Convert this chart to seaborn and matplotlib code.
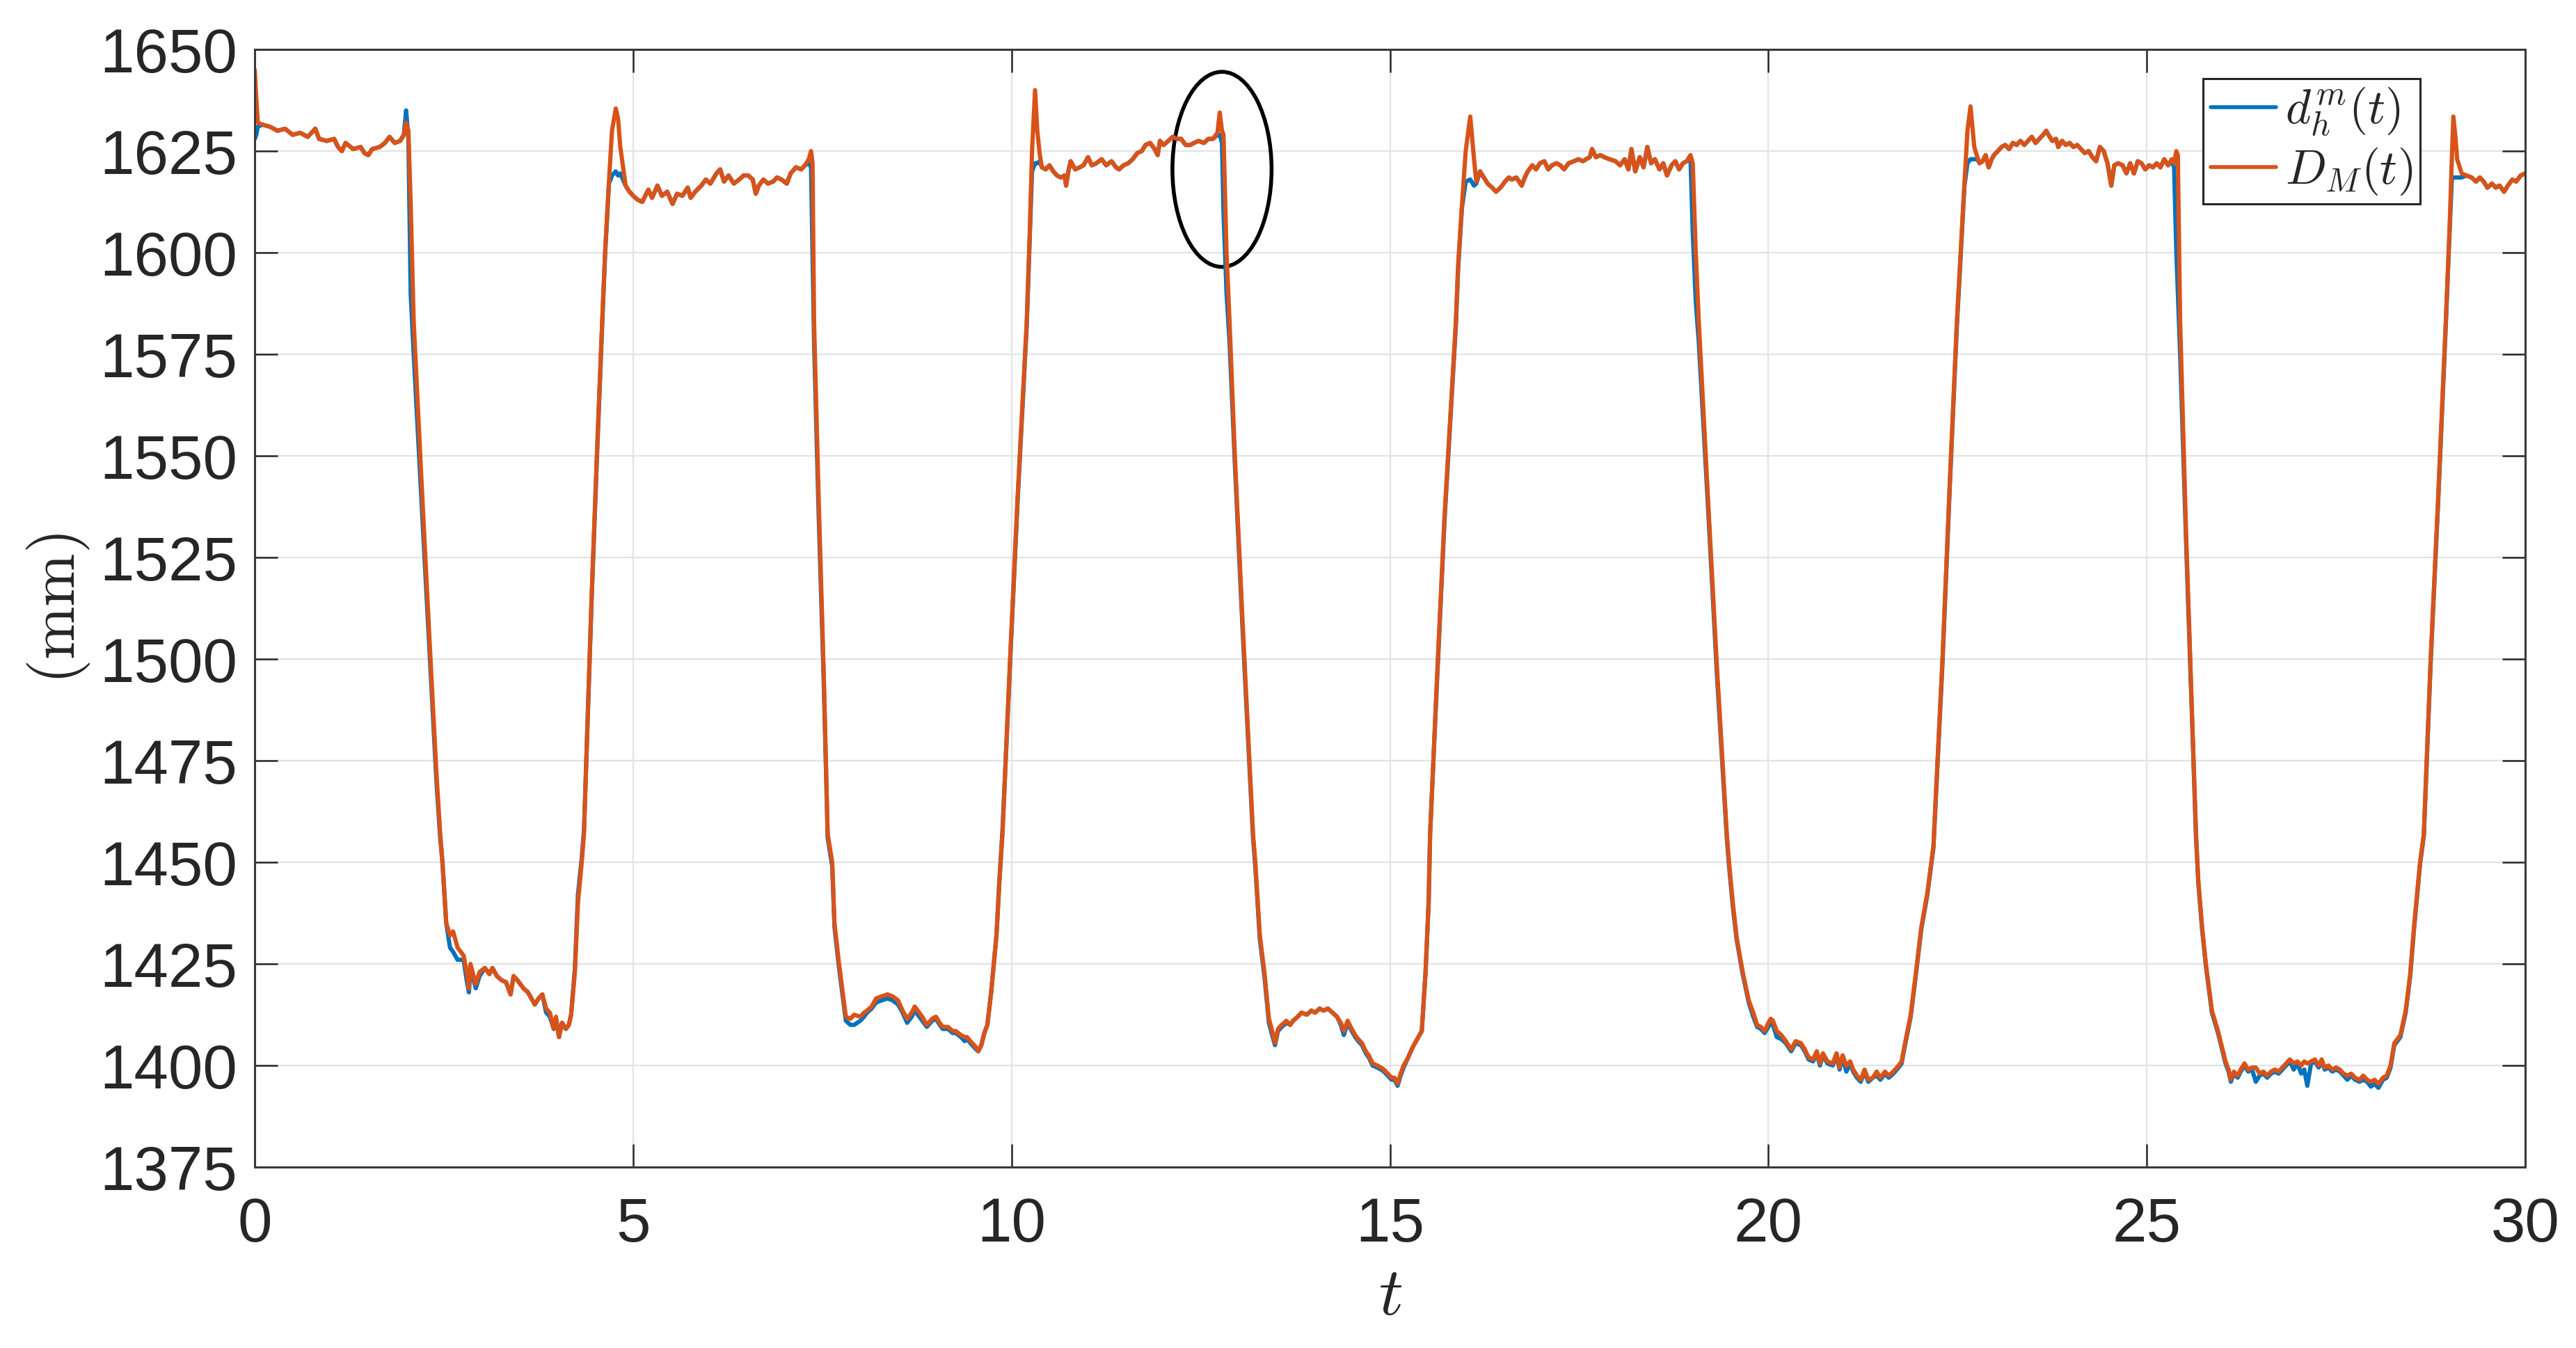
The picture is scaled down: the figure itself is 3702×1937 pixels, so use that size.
import numpy as np
import pandas as pd
import matplotlib
matplotlib.use("Agg")
import matplotlib.pyplot as plt
from matplotlib.patches import Ellipse
import seaborn as sns

# ---------------- data ----------------
t_s = [
    # plateau 1
    0.00,0.02,0.04,0.10,0.20,0.30,0.40,0.50,0.60,0.70,0.80,0.85,0.95,1.05,1.10,1.15,1.20,1.30,1.40,1.45,1.50,1.55,1.65,1.72,1.78,1.85,1.92,1.97,2.00,2.03,
    # drop + trough 1
    2.06,2.10,2.20,2.30,2.40,2.45,2.48,2.53,2.58,2.62,2.68,2.76,2.80,2.83,2.85,2.92,2.97,3.04,3.10,3.14,3.20,3.26,3.32,3.38,3.42,3.47,3.55,3.61,3.67,3.70,3.75,3.80,3.85,3.90,3.95,3.98,4.02,4.06,4.11,4.15,4.18,4.23,4.27,4.32,4.35,
    # rise + plateau 2
    4.45,4.52,4.59,4.63,4.68,4.72,4.77,4.80,4.83,4.90,4.95,5.00,5.06,5.12,5.20,5.25,5.32,5.38,5.45,5.52,5.58,5.65,5.72,5.76,5.82,5.90,5.96,6.02,6.10,6.15,6.20,6.26,6.33,6.40,6.46,6.52,6.58,6.62,6.66,6.72,6.78,6.85,6.90,6.96,7.03,7.08,7.15,7.22,7.27,7.32,7.35,
    # drop + trough 2
    7.37,7.39,7.45,7.52,7.57,7.63,7.66,7.72,7.81,7.87,7.92,8.00,8.05,8.09,8.15,8.21,8.28,8.36,8.43,8.50,8.56,8.62,8.68,8.72,8.76,8.82,8.88,8.95,9.00,9.05,9.09,9.16,9.22,9.26,9.33,9.38,9.41,9.48,9.53,9.56,9.60,9.64,9.68,9.73,9.80,9.84,9.88,
    # rise + plateau 3
    9.98,10.08,10.20,10.24,10.27,10.31,10.34,10.37,10.40,10.45,10.50,10.55,10.60,10.65,10.70,10.72,10.75,10.78,10.84,10.90,10.95,11.01,11.06,11.12,11.19,11.25,11.32,11.38,11.42,11.48,11.54,11.60,11.66,11.72,11.77,11.83,11.89,11.93,11.96,12.01,12.07,12.13,12.18,12.24,12.30,12.36,12.41,12.47,12.54,12.60,12.66,12.72,12.75,12.78,
    # drop + trough 3
    12.80,12.84,12.88,12.95,13.05,13.19,13.22,13.28,13.34,13.40,13.45,13.48,13.52,13.57,13.63,13.68,13.72,13.78,13.83,13.90,13.96,14.01,14.07,14.12,14.18,14.24,14.30,14.35,14.39,14.44,14.48,14.54,14.58,14.63,14.68,14.72,14.77,14.83,14.88,14.92,14.97,15.02,15.06,15.10,15.14,15.18,15.24,15.30,15.36,15.42,15.47,15.51,15.53,
    # rise + plateau 4
    15.62,15.72,15.87,15.90,15.95,16.00,16.06,16.11,16.14,16.19,16.24,16.29,16.35,16.40,16.46,16.52,16.57,16.61,16.67,16.74,16.78,16.82,16.88,16.93,16.98,17.04,17.09,17.14,17.20,17.25,17.30,17.36,17.43,17.49,17.55,17.59,17.64,17.67,17.72,17.78,17.83,17.90,17.98,18.04,18.10,18.15,18.19,18.24,18.30,18.35,18.40,18.45,18.50,18.56,18.61,18.66,18.72,18.77,18.82,18.87,18.92,18.97,
    # drop + trough 4
    19.00,19.04,19.08,19.20,19.32,19.45,19.48,19.53,19.58,19.66,19.74,19.80,19.85,19.90,19.95,20.00,20.03,20.06,20.11,20.17,20.23,20.30,20.36,20.43,20.48,20.53,20.59,20.64,20.68,20.72,20.78,20.85,20.90,20.94,20.98,21.03,21.08,21.12,21.17,21.22,21.27,21.32,21.38,21.43,21.48,21.54,21.59,21.65,21.72,21.76,21.80,21.88,21.94,22.02,22.10,22.18,
    # rise + plateau 5
    22.30,22.40,22.49,22.54,22.59,22.63,22.67,22.72,22.76,22.79,22.83,22.87,22.91,22.95,22.98,23.03,23.08,23.13,23.18,23.23,23.28,23.33,23.38,23.43,23.48,23.53,23.58,23.63,23.67,23.70,23.75,23.80,23.83,23.88,23.93,23.98,24.03,24.08,24.13,24.18,24.23,24.28,24.33,24.38,24.43,24.48,24.53,24.57,24.62,24.68,24.73,24.78,24.83,24.88,24.93,24.98,25.03,25.08,25.13,25.18,25.23,25.28,25.33,25.36,25.39,
    # drop + trough 5
    25.41,25.44,25.52,25.60,25.65,25.68,25.73,25.78,25.86,25.94,26.00,26.04,26.08,26.11,26.15,26.20,26.24,26.29,26.34,26.39,26.44,26.49,26.54,26.59,26.64,26.69,26.74,26.79,26.84,26.89,26.94,26.99,27.04,27.08,27.12,27.17,27.22,27.27,27.31,27.35,27.40,27.45,27.50,27.55,27.60,27.65,27.70,27.75,27.81,27.86,27.91,27.96,28.01,28.06,28.12,28.17,28.22,28.27,28.35,28.42,28.48,28.53,28.61,28.66,
    # rise + plateau 6
    28.75,28.85,28.95,29.00,29.03,29.05,29.08,29.10,29.16,29.22,29.29,29.35,29.40,29.45,29.50,29.56,29.61,29.66,29.72,29.77,29.83,29.88,29.94,30.00,
]

D_M = [
    1645,1638,1632,1631.5,1631,1630,1630.5,1629,1629.5,1628.5,1630.5,1628,1627.5,1628,1626,1625,1627,1625.5,1626,1624.5,1624,1625.5,1626,1627,1628.5,1627,1627.5,1629,1632,1630,
    1612,1583,1545,1508,1472,1457,1450,1435,1432,1433,1429,1427,1423,1419,1425,1420,1423,1424,1422.5,1424,1422,1421,1420.5,1417.5,1422,1421,1419,1418,1416,1415,1416.5,1417.5,1414,1413,1409,1412,1407,1410.5,1409,1410,1412.5,1423,1440,1450,1457,
    1515,1550,1583,1600.5,1617.5,1630,1635.5,1633,1626,1616.5,1615,1614,1613,1612.5,1615.5,1613.5,1616.5,1614,1615,1612,1614.5,1614,1616,1613.5,1615,1616.5,1618,1617,1619.5,1620.5,1617.5,1619,1617,1618,1619,1619,1618,1614.5,1616.5,1618,1617,1617.5,1618.5,1618,1617,1619.5,1621,1620.5,1621.5,1623,1625,
    1622,1583,1540,1495,1457,1450,1435,1425,1412,1411.5,1412.5,1412,1413,1413.5,1414.5,1416.5,1417,1417.5,1417,1416,1413.5,1411.5,1413,1414.5,1413.5,1412,1410,1411.5,1412,1410.5,1409.5,1409.5,1408.5,1408.5,1407.5,1407,1407,1405.5,1404.5,1403.5,1405,1408,1410,1418,1432,1445.5,1457,
    1500,1540,1583,1605,1625,1640,1630,1624.5,1621,1620.5,1621.5,1620,1619,1618.5,1619,1616.5,1620,1622.5,1620.5,1621,1621.5,1623.5,1621.5,1622,1623,1621.5,1622.5,1621,1620.5,1621.5,1622,1623,1624.5,1625,1626.5,1627,1625.5,1624,1627.5,1626.5,1627.5,1628.5,1628,1628,1626.5,1626.5,1627,1627.5,1627,1628,1628,1629.5,1634.5,1630,
    1629,1600,1583,1550,1510,1457,1450,1432,1423,1411.5,1408,1405.5,1409,1410,1411,1410,1411,1412,1413,1412.5,1413.5,1413,1414,1413.5,1414,1413,1412,1410.5,1408.5,1411,1409.5,1407.5,1406.5,1405.5,1403.5,1402.5,1400.5,1400,1399.5,1399,1398,1397,1397,1395.5,1398,1400,1402,1404.5,1406.5,1408.5,1423,1440,1457,
    1495,1535,1583,1597,1611.5,1625,1633.5,1623,1617.5,1620,1618.5,1617,1616,1615,1616,1617.5,1618.5,1618,1618.5,1616.5,1618.5,1620,1621.5,1620.5,1622,1622.5,1620.5,1621.5,1622,1621.5,1620.5,1622,1622.5,1623,1622.5,1623,1623.5,1625.5,1623.5,1624,1623.5,1623,1622.5,1621.5,1623,1620.5,1625.5,1620,1623.5,1621,1626,1622,1623,1620.5,1622,1619,1621.5,1622.5,1620.5,1622,1622.5,1624,
    1622,1600,1583,1540,1498,1457,1450,1440,1431.5,1423,1416,1413,1410,1409.5,1408.5,1410.5,1411.5,1411,1408.5,1407.5,1406,1404,1406,1405.5,1404,1402,1401.5,1403.5,1400.5,1403,1401,1400.5,1403,1399.5,1402.5,1400,1401,1399,1397.5,1396.5,1399,1396.5,1397,1398.5,1397,1398.5,1397.5,1398.5,1400,1401,1405,1412.5,1421.5,1434,1442.5,1454,
    1500,1545,1583,1600,1617,1630,1636,1626,1623.5,1622,1622.5,1624,1621,1623,1624,1625,1626,1626.5,1625.5,1627,1626.5,1627.5,1626.5,1627.5,1628.5,1627,1628,1629,1630,1629,1627.5,1628,1626,1627.5,1626.5,1627,1626,1626.5,1625.5,1624.5,1625,1623.5,1622.5,1626,1625,1622,1616.5,1621.5,1622,1621.5,1619.5,1622,1619.5,1622.5,1622,1620.5,1621.5,1621,1622,1621,1623,1621.5,1623,1622,1625,
    1624,1583,1530,1485,1457,1445.5,1434,1425,1413.5,1408.5,1404,1401,1399,1396.5,1398.5,1397.5,1399,1400.5,1399,1399.5,1399.5,1398,1398.5,1397.5,1398.5,1399,1398.5,1399.5,1400.5,1401.5,1400.5,1401,1400,1401,1400.5,1401,1401.5,1400,1401.5,1399.5,1400,1399,1399.5,1399,1398,1397.5,1398,1397,1396.5,1397.5,1396.5,1396,1396.5,1395.5,1397,1397.5,1400,1405.5,1407.5,1413.5,1422.5,1434,1450,1457,
    1500,1540,1583,1606,1623,1633.5,1628,1623,1619.5,1619,1618.5,1617.5,1618.5,1617.5,1616,1617,1616,1616.5,1615,1616.5,1618,1617.5,1619,1619.5,
]

d_hm = [
    1628,1629,1631,1631.5,1631,1630,1630.5,1629,1629.5,1628.5,1630.5,1628,1627.5,1628,1626,1625,1627,1625.5,1626,1624.5,1624,1625.5,1626,1627,1628.5,1627,1627.5,1629,1635,1628,
    1590,1575,1540,1505,1470,1456,1450,1435,1429,1428,1426,1426,1421,1418,1424,1419,1422,1424,1422.5,1424,1422,1421,1420.5,1417.5,1422,1421,1419,1418,1416,1415,1416.5,1417.5,1413,1412,1409,1411.5,1407,1410.5,1409,1410,1412.5,1424,1442,1451,1458,
    1514,1549,1582,1600,1617,1619,1620,1619,1619.5,1616.5,1615,1614,1613,1612.5,1615.5,1613.5,1616.5,1614,1615,1612,1614.5,1614,1616,1613.5,1615,1616.5,1618,1617,1619.5,1620.5,1617.5,1619,1617,1618,1619,1619,1618,1614.5,1616.5,1618,1617,1617.5,1618.5,1618,1617,1619.5,1621,1620.5,1621.5,1622,1621,
    1600,1578,1536,1493,1456,1449,1434,1424,1411,1410,1410,1411,1412,1413,1414,1415.5,1416,1416.5,1416,1415,1413,1410.5,1412,1413.5,1412.5,1411,1409.5,1411,1411.5,1410,1409,1409,1408,1408,1407,1406,1406.5,1405,1404,1403.5,1405,1408,1410,1418,1432,1446,1458,
    1499,1539,1582,1604,1620,1622,1622,1622.5,1621,1620.5,1621.5,1620,1619,1618.5,1619,1616.5,1620,1622.5,1620.5,1621,1621.5,1623.5,1621.5,1622,1623,1621.5,1622.5,1621,1620.5,1621.5,1622,1623,1624.5,1625,1626.5,1627,1625.5,1624,1627.5,1626.5,1627.5,1628.5,1628,1628,1626.5,1626.5,1627,1627.5,1627,1628,1628,1629,1629,1627,
    1610,1590,1578,1548,1508,1456,1449,1431,1422,1410.5,1407,1405,1408.5,1409.5,1410.5,1410,1411,1412,1413,1412.5,1413.5,1413,1414,1413.5,1414,1413,1412,1410,1407.5,1410.5,1409,1407,1406,1405,1403,1402,1400,1399.5,1399,1398.5,1397.5,1396.5,1396.5,1395,1397.5,1399.5,1402,1404.5,1406.5,1408.5,1423,1440,1457,
    1494,1534,1582,1596,1611,1617.5,1618,1616.5,1617,1620,1618.5,1617,1616,1615,1616,1617.5,1618.5,1618,1618.5,1616.5,1618.5,1620,1621.5,1620.5,1622,1622.5,1620.5,1621.5,1622,1621.5,1620.5,1622,1622.5,1623,1622.5,1623,1623.5,1625.5,1623.5,1624,1623.5,1623,1622.5,1621.5,1623,1620.5,1625.5,1620,1623.5,1621,1626,1622,1623,1620.5,1622,1619,1621.5,1622.5,1620.5,1622,1622.5,1623.5,
    1605,1588,1578,1538,1496,1456,1449,1439,1431,1422.5,1415.5,1412,1409.5,1409,1408,1409.5,1410.5,1410,1407,1406.5,1405.5,1403.5,1405.5,1405,1403.5,1401.5,1401,1403,1400,1402.5,1400.5,1400,1402.5,1399,1402,1398.5,1400.5,1398.5,1397,1396,1398.5,1396,1397,1397.5,1396.5,1398,1397,1398,1399.5,1400.5,1404.5,1412,1421,1433.5,1442,1453.5,
    1499,1544,1582,1599,1616.5,1622,1623,1623,1623,1622,1622.5,1624,1621,1623,1624,1625,1626,1626.5,1625.5,1627,1626.5,1627.5,1626.5,1627.5,1628.5,1627,1628,1629,1630,1629,1627.5,1628,1626,1627.5,1626.5,1627,1626,1626.5,1625.5,1624.5,1625,1623.5,1622.5,1626,1625,1622,1616.5,1621.5,1622,1621.5,1619.5,1622,1619.5,1622.5,1622,1620.5,1621.5,1621,1622,1621,1623,1621.5,1622.5,1621,1600,
    1590,1575,1528,1484,1456,1445,1433.5,1424.5,1413,1408,1403.5,1400.5,1398.5,1396,1398,1397,1398.5,1400,1398.5,1399,1396,1397.5,1398,1397,1398,1398.5,1398,1399,1400,1401,1399,1400.5,1398,1399,1395,1400.5,1401,1399.5,1401,1399,1399.5,1398.5,1399,1398.5,1397.5,1396.5,1397.5,1396.5,1396,1396.5,1396,1394.8,1395.5,1394.5,1396.5,1397,1399.5,1405,1407,1413,1422,1433.5,1449.5,1456.5,
    1499,1539,1582,1605,1618,1618.5,1618.5,1618.5,1618.5,1619,1618.5,1617.5,1618.5,1617.5,1616,1617,1616,1616.5,1615,1616.5,1618,1617.5,1619,1619.5,
]

series_labels = [r"$d_h^m(t)$", r"$D_M(t)$"]
x_ticks = [0, 5, 10, 15, 20, 25, 30]
y_ticks = [1375, 1400, 1425, 1450, 1475, 1500, 1525, 1550, 1575, 1600, 1625, 1650]
ellipse_center = (12.78, 1620.5)
ellipse_size = (1.31, 48)

assert len(t_s) == len(D_M) == len(d_hm)

# ---------------- styling ----------------
sns.set_style("ticks")
plt.rcParams["font.family"] = ["Liberation Sans", "DejaVu Sans"]
plt.rcParams["mathtext.fontset"] = "cm"

BLUE = "#0072BD"
ORANGE = "#D95319"
AXC = "#262626"

df = pd.DataFrame({"t": t_s, "d": d_hm, "D": D_M})

fig = plt.figure(figsize=(37.02, 19.37), dpi=100)
ax = fig.add_axes([0.0989, 0.1342, 0.9803 - 0.0989, 0.9633 - 0.1342])

sns.lineplot(data=df, x="t", y="d", ax=ax, color=BLUE, lw=4.4, sort=False,
             estimator=None, label=series_labels[0])
sns.lineplot(data=df, x="t", y="D", ax=ax, color=ORANGE, lw=4.4, sort=False,
             estimator=None, label=series_labels[1])

ax.set_xlim(0, 30)
ax.set_ylim(1375, 1650)
ax.set_xticks(x_ticks)
ax.set_yticks(y_ticks)
ax.grid(True, color="#e3e3e3", lw=1.6)
ax.set_axisbelow(True)

for s in ax.spines.values():
    s.set_visible(True)
    s.set_color("#3a3a3a")
    s.set_linewidth(2.2)

ax.tick_params(axis="both", which="major", direction="in", length=24, width=1.8,
               color=AXC, labelcolor=AXC, labelsize=64, top=True, right=True)
ax.tick_params(axis="x", pad=30)
ax.tick_params(axis="y", pad=18)

ax.set_xlabel(r"$t$", fontsize=70, labelpad=12)
ax.set_ylabel(r"$\mathrm{(mm)}$", fontsize=66, labelpad=8)

ell = Ellipse(ellipse_center, ellipse_size[0], ellipse_size[1], fill=False,
              edgecolor="black", lw=4)
ax.add_patch(ell)

leg = ax.legend(loc="upper right", bbox_to_anchor=(0.9537, 0.974), fontsize=50,
                frameon=True, fancybox=False, edgecolor="#262626", framealpha=1,
                borderaxespad=0, handlelength=1.35, handletextpad=0.2,
                labelspacing=0.15, borderpad=0.15)
leg.get_frame().set_linewidth(2.2)
for line in leg.get_lines():
    line.set_linewidth(4)

fig.savefig("out.png", dpi=100)
